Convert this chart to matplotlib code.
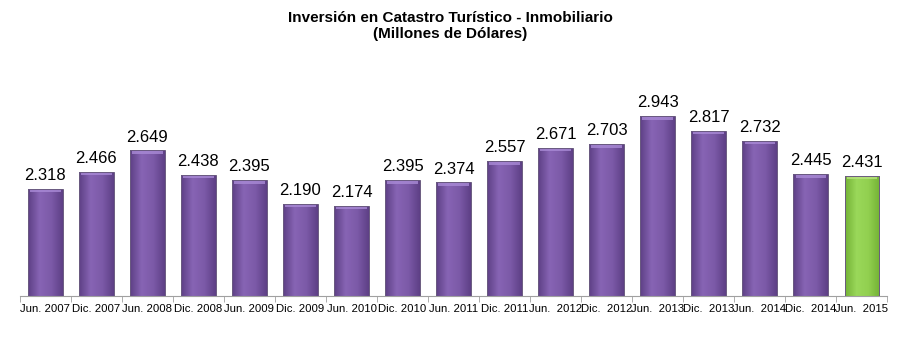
import numpy as np
import matplotlib
matplotlib.use("Agg")
import matplotlib.pyplot as plt
from matplotlib.colors import LinearSegmentedColormap

plt.rcParams['font.family'] = ['Liberation Sans', 'DejaVu Sans']

# Data
periods = ["Jun. 2007", "Dic. 2007", "Jun. 2008", "Dic. 2008", "Jun. 2009",
           "Dic. 2009", "Jun. 2010", "Dic. 2010", "Jun. 2011", "Dic. 2011",
           "Jun.  2012", "Dic.  2012", "Jun.  2013", "Dic.  2013", "Jun.  2014",
           "Dic.  2014", "Jun.  2015"]
values = [2.318, 2.466, 2.649, 2.438, 2.395, 2.190, 2.174, 2.395, 2.374, 2.557,
          2.671, 2.703, 2.943, 2.817, 2.732, 2.445, 2.431]
labels = ["2.318", "2.466", "2.649", "2.438", "2.395", "2.190", "2.174", "2.395",
          "2.374", "2.557", "2.671", "2.703", "2.943", "2.817", "2.732", "2.445",
          "2.431"]

purple = LinearSegmentedColormap.from_list("p", ["#5e4086", "#8764b4", "#7c5aa8", "#5e4086"])
green = LinearSegmentedColormap.from_list("g", ["#74b236", "#9ad85a", "#92d050", "#74b236"])

fig = plt.figure(figsize=(9, 3.5), dpi=100)
ax = fig.add_axes([0.022, 0.154, 0.964, 0.60])
ymin, ymax = 1.4, 3.2
x = np.arange(len(values))
width = 0.68
grad = np.linspace(0, 1, 64).reshape(1, -1)

bars = ax.bar(x, [v - ymin for v in values], width, bottom=ymin,
              color="none", edgecolor="#6a5a80", linewidth=0.7, zorder=3)
for i, (b, v) in enumerate(zip(bars, values)):
    cmap = green if i == len(values) - 1 else purple
    x0 = b.get_x()
    im = ax.imshow(grad, cmap=cmap, aspect="auto", extent=(x0, x0 + width, ymin, v),
                   zorder=2)
    im.set_clip_path(b)
    cap = "#b8e27e" if i == len(values) - 1 else "#a98ad6"
    ax.fill_between([x0 + 0.04, x0 + width - 0.04], v - 0.03, v - 0.004,
                    color=cap, alpha=0.8, zorder=2.5, linewidth=0)
    ax.text(x[i], v + 0.05, labels[i], ha="center", va="bottom", fontsize=12)

ax.set_xlim(-0.5, len(values) - 0.5)
ax.set_ylim(ymin, ymax)
ax.set_yticks([])
ax.set_xticks(x)
ax.set_xticklabels(periods, fontsize=8.2)
ax.tick_params(axis="x", length=0, pad=6)
ax.set_xticks(np.arange(len(values) + 1) - 0.5, minor=True)
ax.tick_params(axis="x", which="minor", length=4, color="#a0a0a0")
for s in ["top", "right", "left"]:
    ax.spines[s].set_visible(False)
ax.spines["bottom"].set_color("#a0a0a0")

fig.text(0.5, 0.925, "Inversión en Catastro Turístico - Inmobiliario\n(Millones de Dólares)",
         ha="center", va="center", fontsize=11, fontweight="bold", linespacing=1.15)

plt.savefig("out.png")
